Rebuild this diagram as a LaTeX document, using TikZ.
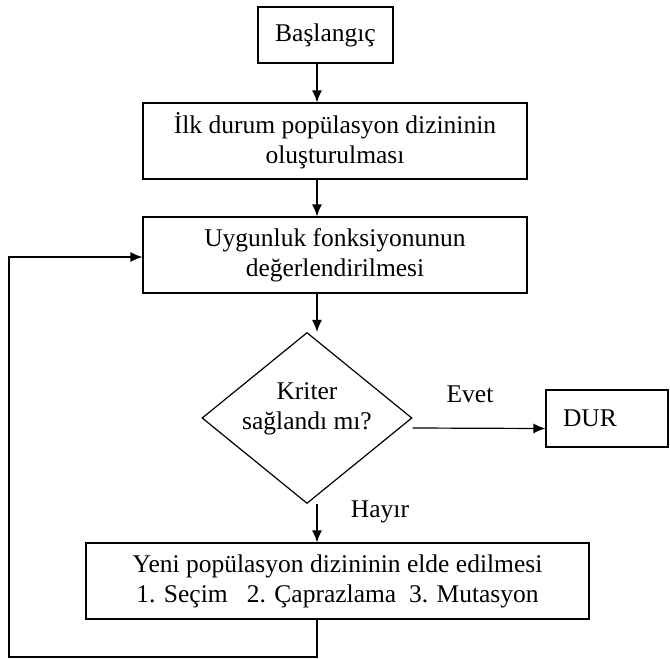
\documentclass[tikz,border=0pt]{standalone}
\usepackage{fontspec}
\setmainfont{Liberation Serif}
\usepackage{tikz}
\usetikzlibrary{calc}
\usetikzlibrary{arrows.meta}
\usetikzlibrary{shapes.geometric}
\tikzset{
	box/.style={draw,line width=1.2pt,align=center,inner sep=0pt},
	karar/.style={draw,diamond,line width=1.2pt,inner sep=0pt,aspect=1.23},
	arr/.style={line width=1.2pt,-{Latex[length=12pt,width=10pt]}},
	etiket/.style={anchor=base,inner sep=0pt}
}

\begin{document}
\begin{tikzpicture}[x=1pt,y=-1pt,font=\fontsize{25.5}{30}\selectfont]
					\useasboundingbox (0,0) rectangle (670,659);
					\coordinate (spine) at (317,0);
					\coordinate (corner) at (9,657);
					\node[box,minimum width=135pt,minimum height=56pt] (start) at (325.5,35) {Başlangıç};
					\node[box,minimum width=384pt,minimum height=76pt] (init) at (335,141) {İlk durum popülasyon dizininin\\oluşturulması};
					\node[box,minimum width=384pt,minimum height=76pt] (fit) at (335,255) {Uygunluk fonksiyonunun\\değerlendirilmesi};
					\node[karar,minimum width=210pt,minimum height=171pt,
						label={[align=center,yshift=9pt]center:Kriter\\sağlandı mı?}] (crit) at (307,418) {};
					\node[box,text width=88pt,inner xsep=17pt,minimum height=57pt,align=left] (dur) at (607,418.5) {DUR};
					\node[box,minimum width=503pt,minimum height=76pt] (newpop) at (337.5,581) {Yeni popülasyon dizininin elde edilmesi\\1. Seçim\ \ \ 2. Çaprazlama\ \ 3. Mutasyon};
					\draw[arr] (start.south -| spine) -- (init.north -| spine);
					\draw[arr] (init.south -| spine) -- (fit.north -| spine);
					\draw[arr] (fit.south -| spine) -- (crit.north -| spine);
					\draw[arr] ([yshift=-10pt]crit.east) -- ([yshift=-10pt]dur.west);
					\draw[arr] (crit.south -| spine) -- (newpop.north -| spine);
					\draw[arr] (newpop.south -| spine) |- (corner) |- ([yshift=-2pt]fit.west);
					\node[etiket] (evet) at (470,402) {Evet};
					\node[etiket] (hayir) at (380,517) {Hayır};
				\end{tikzpicture}
\end{document}
